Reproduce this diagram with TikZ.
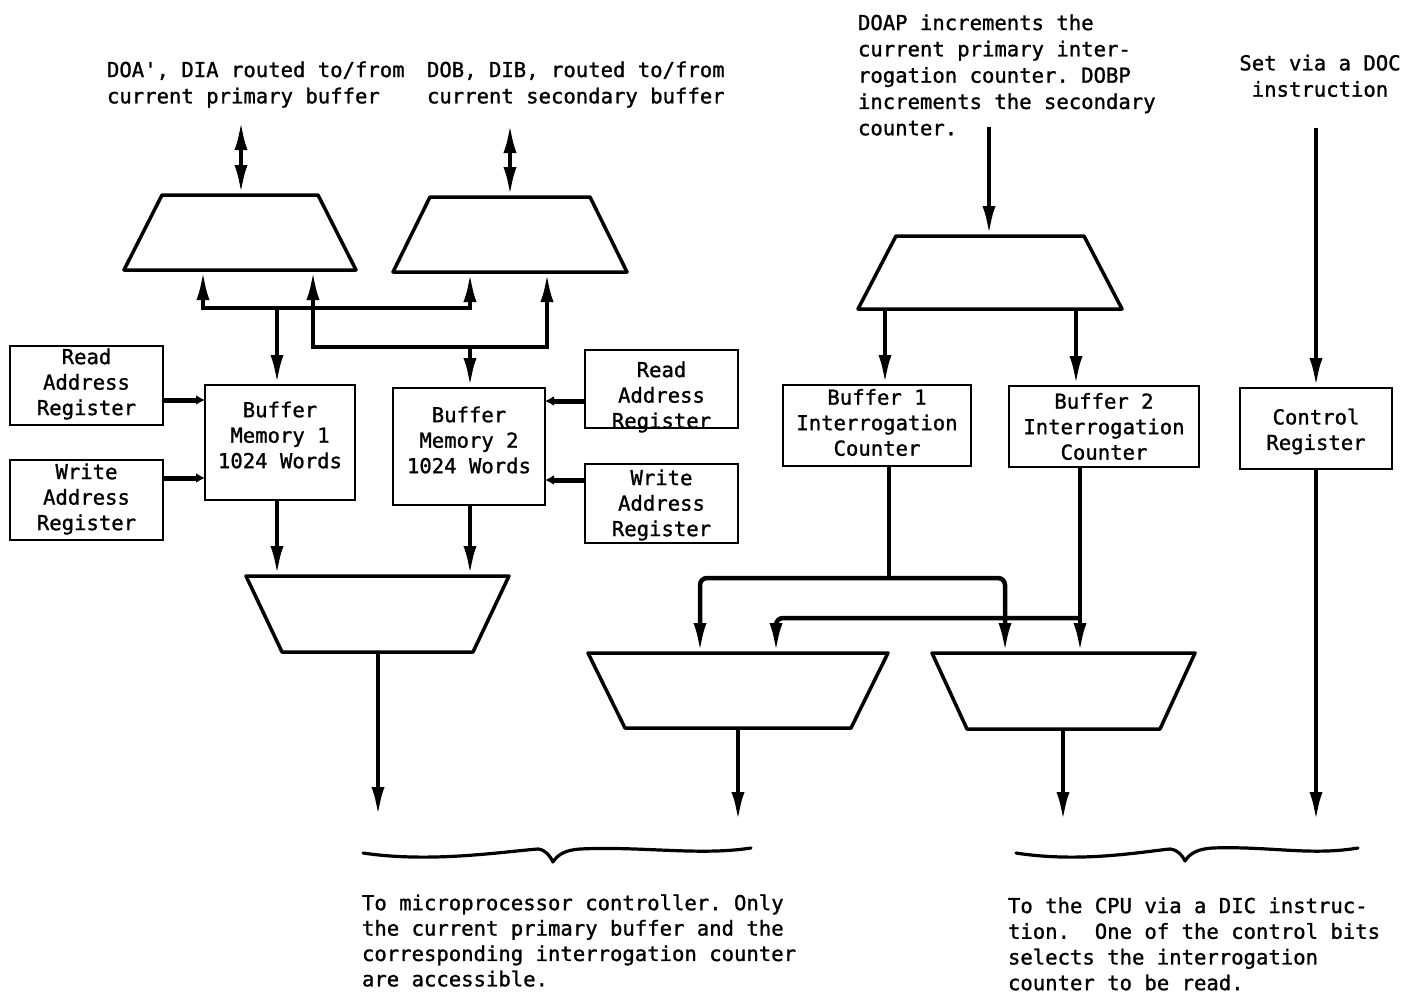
\documentclass[tikz,border=0pt]{standalone}
\usepackage{fontspec}
\newfontfamily\monof[FakeBold=1.2]{DejaVu Sans Mono}
\usetikzlibrary{arrows.meta,calc}
\frenchspacing
\begin{document}
\begin{tikzpicture}[x=1pt,y=-1pt,
  every node/.style={inner sep=0pt, outer sep=0pt},
  txt/.style={font=\monof\fontsize{20.6}{26.3}\selectfont, align=left, anchor=north west},
  lbl/.style={font=\monof\fontsize{20.6}{25.5}\selectfont, align=center},
  box/.style={draw, line width=2.8pt},
  trap/.style={line width=3.5pt, line join=round},
  arr/.style={line width=4.5pt, -{Latex[length=30pt,width=13pt]}},
  darr/.style={line width=4.5pt, {Latex[length=30pt,width=13pt]}-{Latex[length=30pt,width=13pt]}},
  sarr/.style={line width=5pt, -{Latex[length=9pt,width=10pt]}},
  plain/.style={line width=4.5pt},
  brace/.style={line width=3.2pt, line cap=round, line join=round}
]
\fill[white] (0,0) rectangle (1411,993);
\useasboundingbox (0,0) rectangle (1411,993);

% ---------- texts ----------
\node[txt] (t1) at (107,61.4) {DOA', DIA routed to/from\\current primary buffer};
\node[txt] (t2) at (427,61.4) {DOB, DIB, routed to/from\\current secondary buffer};
\node[txt] (t3) at (858,14.4) {DOAP increments the\\current primary inter-\\rogation counter. DOBP\\increments the secondary\\counter.};
\node[txt, align=center, anchor=north] (t4) at (1320,54.7) {Set via a DOC\\instruction};
\node[txt, font=\monof\fontsize{20.6}{25.4}\selectfont] (t5) at (362,894.4) {To microprocessor controller. Only\\the current primary buffer and the\\corresponding interrogation counter\\are accessible.};
\node[txt, font=\monof\fontsize{20.6}{25.7}\selectfont] (t6) at (1008,897.4) {To the CPU via a DIC instruc-\\tion.~~One of the control bits\\selects the interrogation\\counter to be read.};

% ---------- trapezoid frames ----------
\node[minimum width=232pt, minimum height=75pt] (tl) at (240,232.5) {};
\node[minimum width=234pt, minimum height=75pt] (tr) at (510,234.5) {};
\node[minimum width=263pt, minimum height=76pt] (lt1) at (377.5,614) {};
\node[minimum width=264pt, minimum height=73pt] (rt) at (990,272.5) {};
\node[minimum width=300pt, minimum height=75pt] (lt2) at (738,690.5) {};
\node[minimum width=263pt, minimum height=76pt] (lt3) at (1063.5,691) {};

\draw[trap] (tl.south west) -- ([xshift=38pt]tl.north west) -- ([xshift=-38pt]tl.north east) -- (tl.south east) -- cycle;
\draw[trap] (tr.south west) -- ([xshift=37pt]tr.north west) -- ([xshift=-37pt]tr.north east) -- (tr.south east) -- cycle;
\draw[trap] (rt.south west) -- ([xshift=38pt]rt.north west) -- ([xshift=-38pt]rt.north east) -- (rt.south east) -- cycle;
\draw[trap] (lt1.north west) -- (lt1.north east) -- ([xshift=-36pt]lt1.south east) -- ([xshift=36pt]lt1.south west) -- cycle;
\draw[trap] (lt2.north west) -- (lt2.north east) -- ([xshift=-37pt]lt2.south east) -- ([xshift=37pt]lt2.south west) -- cycle;
\draw[trap] (lt3.north west) -- (lt3.north east) -- ([xshift=-35pt]lt3.south east) -- ([xshift=35pt]lt3.south west) -- cycle;

% ---------- boxes ----------
\node[box, minimum width=153pt, minimum height=79pt] (rar) at (86.5,385.5) {};
\node[box, minimum width=153pt, minimum height=80pt] (war) at (86.5,500) {};
\node[box, minimum width=150pt, minimum height=115pt] (bm1) at (280,442.5) {};
\node[box, minimum width=152pt, minimum height=117pt] (bm2) at (469,446.5) {};
\node[box, minimum width=153pt, minimum height=78pt] (rar2) at (661.5,389) {};
\node[box, minimum width=153pt, minimum height=79pt] (war2) at (661.5,503.5) {};
\node[box, minimum width=188pt, minimum height=81pt] (ic1) at (877,425.5) {};
\node[box, minimum width=190pt, minimum height=81pt] (ic2) at (1104,426.5) {};
\node[box, minimum width=152pt, minimum height=81pt] (cr) at (1316,428.5) {};

\node[lbl] at ([yshift=1.5pt]rar.center) {Read\\Address\\Register};
\node[lbl] at ([yshift=1pt]war.center) {Write\\Address\\Register};
\node[lbl] at ([yshift=7.5pt]bm1.center) {Buffer\\Memory 1\\1024 Words};
\node[lbl] at ([yshift=6.5pt]bm2.center) {Buffer\\Memory 2\\1024 Words};
\node[lbl] at ([yshift=-8pt]rar2.center) {Read\\Address\\Register};
\node[lbl] at ([yshift=-1.5pt]war2.center) {Write\\Address\\Register};
\node[lbl] at ([yshift=3pt]ic1.center) {Buffer 1\\Interrogation\\Counter};
\node[lbl] at ([yshift=0pt]ic2.center) {Buffer 2\\Interrogation\\Counter};
\node[lbl] at ([yshift=-3pt]cr.center) {Control\\Register};

% ---------- left connectors ----------
\coordinate (inA) at (241,120);
\coordinate (inB) at (510,123);
\draw[darr] (inA) -- (inA |- tl.north);
\draw[darr] (inB) -- (inB |- tr.north);

\coordinate (b1a) at (203,308);
\coordinate (b1b) at (470,308);
\coordinate (b1c) at (277,308);
\draw[darr] (b1a |- tl.south) -- (b1a) -- (b1b) -- (b1b |- tr.south);
\draw[arr] (b1c) -- (b1c |- bm1.north);

\coordinate (b2a) at (313,347);
\coordinate (b2b) at (547,347);
\coordinate (b2c) at (470,347);
\draw[darr] (b2a |- tl.south) -- (b2a) -- (b2b) -- (b2b |- tr.south);
\draw[arr] (b2c) -- (b2c |- bm2.north);

\draw[sarr] ([yshift=-14.5pt]rar.east) -- ([yshift=-14.5pt]rar.east -| bm1.west);
\draw[sarr] ([yshift=22pt]war.east) -- ([yshift=22pt]war.east -| bm1.west);
\draw[sarr] ([yshift=-12pt]rar2.west) -- ([yshift=-12pt]rar2.west -| bm2.east);
\draw[sarr] ([yshift=23.5pt]war2.west) -- ([yshift=23.5pt]war2.west -| bm2.east);

\coordinate (d1) at (277,0);
\coordinate (d2) at (470,0);
\draw[arr] (d1 |- bm1.south) -- (d1 |- lt1.north);
\draw[arr] (d2 |- bm2.south) -- (d2 |- lt1.north);
\coordinate (o1) at (378,817);
\draw[arr] (o1 |- lt1.south) -- (o1);

% ---------- right connectors ----------
\coordinate (inC) at (989,127);
\draw[arr] (inC) -- (inC |- rt.north);
\coordinate (k1) at (885,0);
\coordinate (k2) at (1076,0);
\draw[arr] (k1 |- rt.south) -- (k1 |- ic1.north);
\draw[arr] (k2 |- rt.south) -- (k2 |- ic2.north);

\coordinate (inD) at (1316,128);
\draw[arr] (inD) -- (cr.north);
\coordinate (o4) at (1316,822);
\draw[arr] (cr.south) -- (o4);

\coordinate (h1) at (889,578);
\coordinate (h1l) at (700,578);
\coordinate (h1r) at (1005,578);
\draw[plain] (h1 |- ic1.south) -- (h1);
\draw[arr, rounded corners=7pt] (h1) -- (h1l) -- (h1l |- lt2.north);
\draw[arr, rounded corners=7pt] (h1) -- (h1r) -- (h1r |- lt3.north);

\coordinate (h2) at (1080,618);
\coordinate (h2l) at (776,618);
\draw[arr] (h2 |- ic2.south) -- (h2 |- lt3.north);
\draw[arr, rounded corners=7pt] (h2) -- (h2l) -- (h2l |- lt2.north);

\coordinate (o2) at (738,822);
\coordinate (o3) at (1063,822);
\draw[arr] (o2 |- lt2.south) -- (o2);
\draw[arr] (o3 |- lt3.south) -- (o3);

% ---------- braces ----------
\draw[brace] (363,853) .. controls (430,863) and (500,852) .. (538,849)
  .. controls (546,850) and (550,856) .. (553,862)
  .. controls (558,854) and (566,850) .. (580,849)
  .. controls (640,846) and (700,856) .. (751,848);
\draw[brace] (1016,853) .. controls (1080,863) and (1140,852) .. (1170,849)
  .. controls (1178,850) and (1182,855) .. (1185,861)
  .. controls (1190,853) and (1198,849) .. (1212,848)
  .. controls (1270,846) and (1310,856) .. (1358,848);
\end{tikzpicture}
\end{document}
